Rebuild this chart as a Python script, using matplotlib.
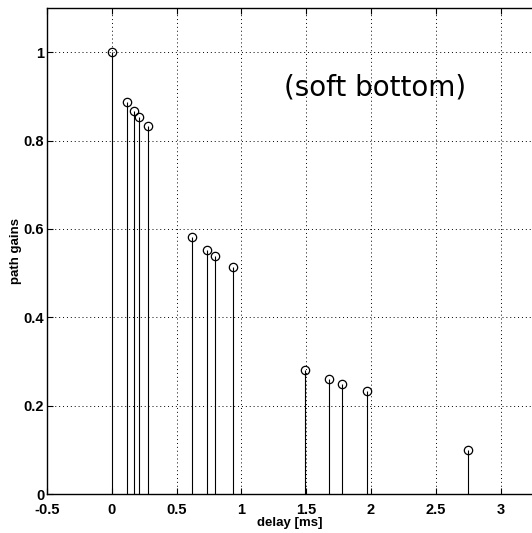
import matplotlib.pyplot as plt
import matplotlib.ticker as ticker

# delays [ms] and path gains
delays = [0.0, 0.119, 0.173, 0.208, 0.278, 0.615, 0.734, 0.799, 0.935,
          1.493, 1.676, 1.774, 1.970, 2.752]
gains = [1.0, 0.887, 0.866, 0.854, 0.833, 0.582, 0.553, 0.539, 0.513,
         0.281, 0.260, 0.250, 0.232, 0.099]

x_ticks = [-0.5, 0, 0.5, 1, 1.5, 2, 2.5, 3]
x_tick_labels = ['-0.5', '0', '0.5', '1', '1.5', '2', '2.5', '3']
y_ticks = [0, 0.2, 0.4, 0.6, 0.8, 1]
y_tick_labels = ['0', '0.2', '0.4', '0.6', '0.8', '1']

plt.rcParams['font.family'] = ['Liberation Sans', 'DejaVu Sans']

fig = plt.figure(figsize=(5.32, 5.33), dpi=100)
ax = fig.add_axes([47 / 532, 39 / 533, 486 / 532, 486 / 533])

markerline, stemlines, baseline = ax.stem(delays, gains, basefmt=' ')
stemlines.set_color('black')
stemlines.set_linewidth(0.8)
markerline.set_markerfacecolor('none')
markerline.set_markeredgecolor('black')
markerline.set_markersize(6)
markerline.set_markeredgewidth(0.9)

ax.set_xlim(-0.5, 3.25)
ax.set_ylim(0, 1.1)
ax.set_xticks(x_ticks)
ax.set_xticklabels(x_tick_labels, fontweight='bold', fontsize=10.5)
ax.set_yticks(y_ticks)
ax.set_yticklabels(y_tick_labels, fontweight='bold', fontsize=10.5)
ax.tick_params(direction='in', length=4, top=True, width=0.8)
ax.tick_params(axis='x', pad=6.5)
ax.tick_params(axis='y', pad=2)

ax.grid(True, linestyle=(0, (1, 3)), color='black', linewidth=0.7)
ax.set_axisbelow(True)
for side in ['left', 'bottom', 'top']:
    ax.spines[side].set_linewidth(1.0)
ax.spines['right'].set_visible(False)

ax.set_xlabel('delay [ms]', fontweight='bold', fontsize=9.5, labelpad=0)
ax.set_ylabel('path gains', fontweight='bold', fontsize=9.5, labelpad=1)

ax.text(2.03, 0.921, '(soft bottom)', fontsize=20, family=['DejaVu Sans'],
        ha='center', va='center')

fig.savefig('out.png', dpi=100)
